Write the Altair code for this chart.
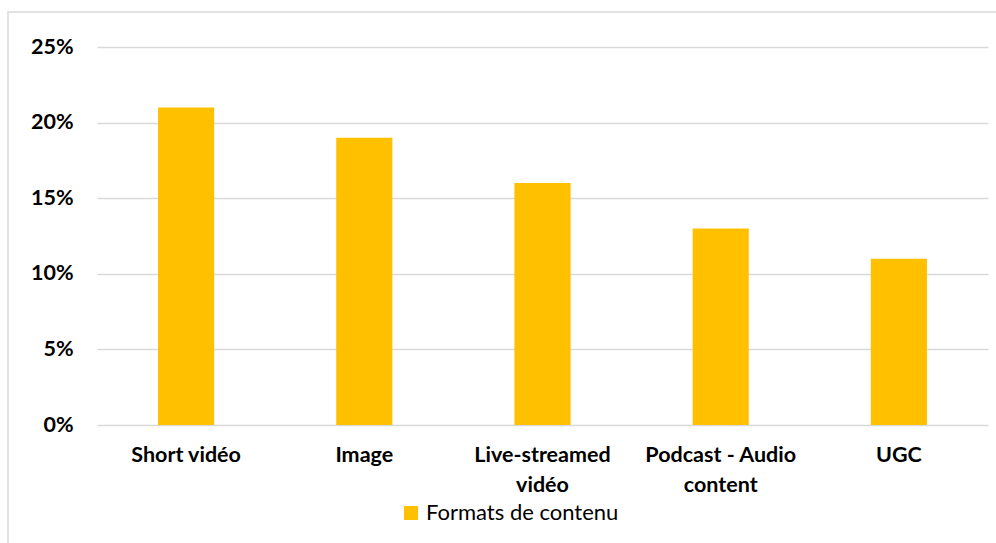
import altair as alt
import pandas as pd

categories = ["Short vidéo", "Image", "Live-streamed vidéo", "Podcast - Audio content", "UGC"]
values = [0.21, 0.19, 0.16, 0.13, 0.11]
series_name = "Formats de contenu"
y_ticks = [0, 0.05, 0.10, 0.15, 0.20, 0.25]

df = pd.DataFrame({"cat": categories, "val": values, "serie": [series_name] * len(categories)})

label_expr = (
    "datum.value == 'Live-streamed vidéo' ? ['Live-streamed', 'vidéo'] : "
    "datum.value == 'Podcast - Audio content' ? ['Podcast - Audio', 'content'] : datum.value"
)

FONT = "Lato"

border = alt.Chart(pd.DataFrame({"a": [0]})).mark_rect(
    filled=False, stroke="#d9d9d9", strokeWidth=1.5
).encode(
    x=alt.value(-89), x2=alt.value(1000), y=alt.value(-35), y2=alt.value(600)
)

bars = alt.Chart(df).mark_bar(color="#FFC000").encode(
    x=alt.X("cat:N", sort=categories, title=None,
            scale=alt.Scale(paddingInner=0.685, paddingOuter=0.3425),
            axis=alt.Axis(labelExpr=label_expr, labelAngle=0, labelFont=FONT,
                          labelFontWeight="bold", labelFontSize=21.5, labelColor="#000000",
                          labelPadding=19, labelLineHeight=30, domain=False, ticks=False,
                          grid=False, labelLimit=0)),
    y=alt.Y("val:Q", title=None,
            scale=alt.Scale(domain=[0, 0.25], nice=False),
            axis=alt.Axis(values=y_ticks, format=".0%", labelFont=FONT,
                          labelFontWeight="bold", labelFontSize=21.5, labelColor="#000000",
                          labelPadding=24, domain=False, ticks=False,
                          gridColor="#d9d9d9", gridWidth=1.5)),
    color=alt.Color("serie:N", scale=alt.Scale(range=["#FFC000"]),
                    legend=alt.Legend(title=None, orient="none", legendX=303, legendY=455,
                                      symbolType="square", symbolSize=196,
                                      symbolStrokeWidth=0, labelLimit=0, labelOffset=4,
                                      labelFont=FONT, labelFontSize=22,
                                      labelColor="#000000")),
)

chart = alt.layer(border, bars).properties(
    width=891, height=378,
    autosize=alt.AutoSizeParams(type="none"),
    padding={"left": 97, "top": 47, "right": 8, "bottom": 118},
    background="white",
).configure_view(stroke=None)

chart.save("out.html", embed_options={"renderer": "svg", "actions": False})
